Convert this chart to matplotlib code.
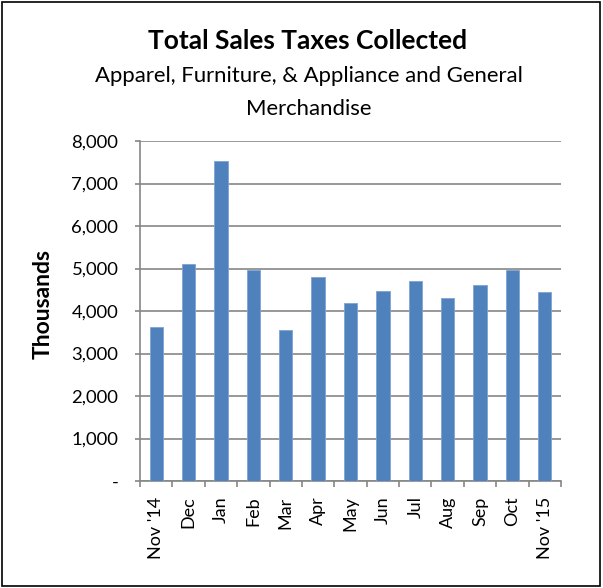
import matplotlib
matplotlib.use("Agg")
import matplotlib.pyplot as plt
from matplotlib.patches import Rectangle
from matplotlib.ticker import FuncFormatter, FixedLocator

plt.rcParams['font.family'] = ['Lato', 'DejaVu Sans']

months = ["Nov '14", "Dec", "Jan", "Feb", "Mar", "Apr", "May", "Jun", "Jul",
          "Aug", "Sep", "Oct", "Nov '15"]
values = [3612, 5110, 7525, 4953, 3557, 4805, 4200, 4475, 4701, 4310, 4616, 4953, 4452]
yticks = [0, 1000, 2000, 3000, 4000, 5000, 6000, 7000, 8000]

fig = plt.figure(figsize=(6.03, 5.88), dpi=100)
ax = fig.add_axes([140/603, 1-481/588, 421/603, 340/588])

x = list(range(len(months)))
ax.bar(x, values, width=0.41, color='#4F81BD', edgecolor='#7FA3D3', linewidth=0.6, zorder=3)

ax.set_xlim(-0.5, len(months)-0.5)
ax.set_ylim(0, 8000)
ax.set_yticks(yticks)
ax.yaxis.set_major_formatter(FuncFormatter(lambda v, p: '-' if v == 0 else f'{int(v):,}'))
ax.grid(axis='y', color='#868686', linewidth=1.2, zorder=0)

ax.set_xticks(x)
ax.set_xticklabels(months, rotation=90, fontsize=13)
ax.xaxis.set_minor_locator(FixedLocator([i - 0.5 for i in range(len(months)+1)]))
ax.tick_params(axis='x', which='major', length=0, pad=11)
ax.tick_params(axis='x', which='minor', length=4, color='#868686', width=1.2, direction='out')
ax.tick_params(axis='y', length=3.6, color='#868686', width=1.2, labelsize=13.3, pad=12)

for s in ['top', 'right']:
    ax.spines[s].set_visible(False)
for s in ['left', 'bottom']:
    ax.spines[s].set_color('#868686')
    ax.spines[s].set_linewidth(1.2)

fig.text(43/603, 1-304/588, 'Thousands', rotation=90, ha='center', va='center',
         fontsize=16.5, fontweight='bold')

fig.text(308/603, 1-49.3/588, 'Total Sales Taxes Collected', ha='center', va='baseline',
         fontsize=19, fontweight='bold')
fig.text(308.5/603, 1-81.7/588, 'Apparel, Furniture, & Appliance and General', ha='center',
         va='baseline', fontsize=15.9)
fig.text(308.5/603, 1-115/588, 'Merchandise', ha='center', va='baseline', fontsize=15.9)

fig.patches.append(Rectangle((2/603, 2/588), 598/603, 584/588, transform=fig.transFigure,
                             fill=False, edgecolor='black', linewidth=1.2))

fig.savefig('out.png', dpi=100)
